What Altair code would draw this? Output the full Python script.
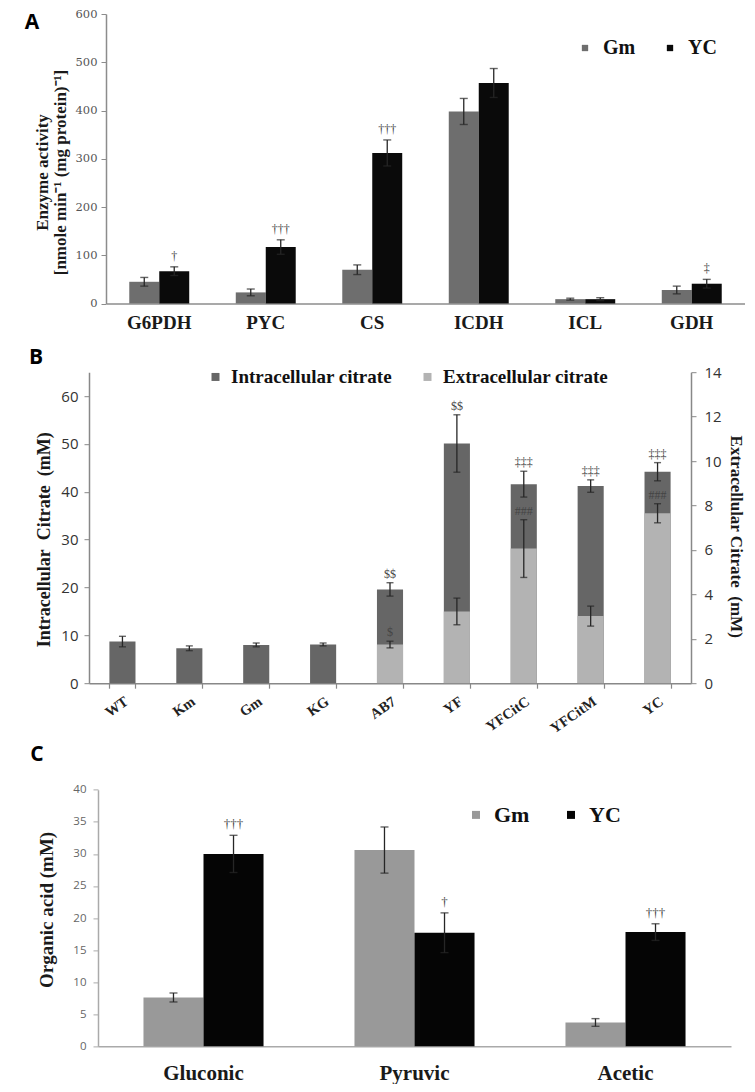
import altair as alt
import pandas as pd

SERIF = "Liberation Serif"
SANS = "Open Sans"

# ---------------- Panel A data ----------------
A_cats = ["G6PDH", "PYC", "CS", "ICDH", "ICL", "GDH"]
A_gm = [45, 23, 70, 398, 9, 28]
A_gm_err = [9, 7, 10, 27, 2, 8]
A_yc = [67, 117, 312, 457, 9, 41]
A_yc_err = [9, 15, 27, 30, 3, 9]
A_yc_sig = ["†", "†††", "†††", "", "", "‡"]

# ---------------- Panel B data ----------------
B_cats = ["WT", "Km", "Gm", "KG", "AB7", "YF", "YFCitC", "YFCitM", "YC"]
B_intra = [8.7, 7.3, 8.0, 8.1, 19.6, 50.1, 41.6, 41.2, 44.2]
B_intra_err = [1.1, 0.5, 0.4, 0.3, 1.4, 6.0, 2.7, 1.3, 1.9]
B_extra = [0, 0, 0, 0, 1.74, 3.23, 6.06, 3.02, 7.65]
B_extra_err = [0, 0, 0, 0, 0.15, 0.6, 1.3, 0.45, 0.43]
B_intra_sig = ["", "", "", "", "$$", "$$", "‡‡‡", "‡‡‡", "‡‡‡"]
B_extra_sig = ["", "", "", "", "$", "", "###", "", "###"]

# ---------------- Panel C data ----------------
C_cats = ["Gluconic", "Pyruvic", "Acetic"]
C_gm = [7.6, 30.6, 3.7]
C_gm_err = [0.7, 3.6, 0.6]
C_yc = [30.0, 17.7, 17.8]
C_yc_err = [2.9, 3.1, 1.3]
C_yc_sig = ["†††", "†", "†††"]

SERIES = ["Gm", "YC"]
NB = "\u00a0"


def grouped_df(catname, sname, cats, gm, gm_err, yc, yc_err, yc_sig):
    rows = []
    for i, c in enumerate(cats):
        rows.append({catname: c, sname: "Gm", "value": gm[i], "err": gm_err[i], "sig": ""})
        rows.append({catname: c, sname: "YC", "value": yc[i], "err": yc_err[i], "sig": yc_sig[i]})
    df = pd.DataFrame(rows)
    df["lo"] = df["value"] - df["err"]
    df["hi"] = df["value"] + df["err"]
    return df


def grouped_panel(df, catname, sname, cats, colors, xrange, pin, xaxis, yscale, yaxis,
                  legend, letter, letter_xy, width, height, tick_w, sig_size):
    x = alt.X(f"{catname}:N", sort=cats,
              scale=alt.Scale(range=xrange, paddingInner=pin, paddingOuter=pin / 2),
              axis=xaxis)
    xo = alt.XOffset(f"{sname}:N", sort=SERIES, scale=alt.Scale(paddingInner=0, paddingOuter=0))
    base = alt.Chart(df)
    bars = base.mark_bar().encode(
        x=x, xOffset=xo,
        y=alt.Y("value:Q", scale=yscale, axis=yaxis),
        color=alt.Color(f"{sname}:N", scale=alt.Scale(domain=SERIES, range=colors), legend=legend),
    )
    rules = base.mark_rule(color="#262626", strokeWidth=1.3).encode(
        x=x, xOffset=xo,
        y=alt.Y("lo:Q", scale=yscale, axis=yaxis), y2="hi:Q")
    tlo = base.mark_tick(color="#262626", size=tick_w, thickness=1.4).encode(
        x=x, xOffset=xo, y=alt.Y("lo:Q", scale=yscale, axis=yaxis))
    thi = base.mark_tick(color="#262626", size=tick_w, thickness=1.4).encode(
        x=x, xOffset=xo, y=alt.Y("hi:Q", scale=yscale, axis=yaxis))
    sig = base.mark_text(dy=-11, font=SERIF, fontSize=sig_size, color="#444444").encode(
        x=x, xOffset=xo, y=alt.Y("hi:Q", scale=yscale, axis=yaxis), text="sig:N")
    let = alt.Chart(pd.DataFrame({"t": [letter]})).mark_text(
        font=SANS, fontWeight="bold", fontSize=21, color="#000000", align="center", baseline="middle"
    ).encode(text="t:N", x=alt.value(letter_xy[0]), y=alt.value(letter_xy[1]))
    return alt.layer(bars, rules, tlo, thi, sig, let).properties(width=width, height=height)


# ---------------- Panel A ----------------
dfA = grouped_df("enzyme", "sA", A_cats, A_gm, A_gm_err, A_yc, A_yc_err, A_yc_sig)
xaxisA = alt.Axis(title=None, labelAngle=0, ticks=False, domainColor="#8c8c8c", domainWidth=1.5,
                  labelFont=SERIF, labelFontWeight="bold", labelFontSize=19, labelColor="#1a1a1a",
                  labelPadding=10)
yaxisA = alt.Axis(values=[0, 100, 200, 300, 400, 500, 600], offset=-17,
                  title=["Enzyme activity", "[nmole min⁻¹ (mg protein)⁻¹]"],
                  titleFont=SERIF, titleFontWeight="bold", titleFontSize=17, titleColor="#1a1a1a",
                  titleLineHeight=18, titlePadding=6, titleY=158, titleAlign="center",
                  labelFont="DejaVu Serif", labelFontSize=11.5, labelColor="#555555",
                  tickSize=5, tickColor="#8c8c8c", domainColor="#8c8c8c", domainWidth=1.5,
                  labelPadding=4, grid=False)
legA = alt.Legend(orient="none", legendX=486, legendY=24, direction="horizontal", title=None,
                  symbolType="square", symbolSize=40, symbolStrokeWidth=0,
                  labelFont=SERIF, labelFontWeight="bold", labelFontSize=20, labelColor="#111111",
                  columnPadding=24, labelOffset=8)
panelA = grouped_panel(dfA, "enzyme", "sA", A_cats, ["#6e6e6e", "#0a0a0a"], [17, 656], 0.437,
                       xaxisA, alt.Scale(domain=[0, 600], nice=False), yaxisA, legA,
                       "A", (-57, 9), 656, 289.5, 8, 12)

# ---------------- Panel B ----------------
dfB = pd.DataFrame({
    "strain": B_cats, "intra": B_intra, "ierr": B_intra_err,
    "extra": B_extra, "eerr": B_extra_err, "isig": B_intra_sig, "esig": B_extra_sig,
})
dfB["ilo"] = dfB["intra"] - dfB["ierr"]
dfB["ihi"] = dfB["intra"] + dfB["ierr"]
dfB["elo"] = dfB["extra"] - dfB["eerr"]
dfB["ehi"] = dfB["extra"] + dfB["eerr"]

xaxisB = alt.Axis(title=None, labelAngle=-35, tickBand="extent", ticks=True, tickSize=5,
                  tickColor="#888888", tickWidth=1.2, domainColor="#888888", domainWidth=1.5,
                  labelFont=SERIF, labelFontWeight="bold", labelFontSize=14.5, labelColor="#222222",
                  labelPadding=6, labelAlign="right", labelBaseline="top")
xB = alt.X("strain:N", sort=B_cats, scale=alt.Scale(paddingInner=0.61, paddingOuter=0.305), axis=xaxisB)
ysL = alt.Scale(domain=[0, 65], nice=False)
ysR = alt.Scale(domain=[0, 14], nice=False)
yaxL = alt.Axis(orient="left", values=[0, 10, 20, 30, 40, 50, 60],
                title=f"Intracellular{NB}{NB}Citrate{NB}{NB}(mM)", titleFont=SERIF, titleFontWeight="bold",
                titleFontSize=18, titleColor="#1a1a1a", titlePadding=7, titleY=167, titleAlign="center",
                labelFont=SANS, labelFontSize=15, labelColor="#333333", labelPadding=6,
                tickSize=5, tickColor="#888888", domainColor="#888888", domainWidth=1.5, grid=False)
yaxR = alt.Axis(orient="right", values=[0, 2, 4, 6, 8, 10, 12, 14],
                title=f"Extracellular Citrate{NB}{NB}(mM)", titleFont=SERIF, titleFontWeight="bold",
                titleFontSize=17, titleColor="#1a1a1a", titlePadding=5, titleY=164, titleAlign="center",
                labelFont=SANS, labelFontSize=15, labelColor="#333333", labelPadding=8,
                tickSize=5, tickColor="#888888", domainColor="#888888", domainWidth=1.5, grid=False)
KINDS = ["Intracellular citrate", "Extracellular citrate"]
legB = alt.Legend(orient="none", legendX=117, legendY=-5, direction="horizontal", title=None,
                  symbolType="square", symbolSize=64, symbolStrokeWidth=0,
                  labelFont=SERIF, labelFontWeight="bold", labelFontSize=19, labelColor="#111111",
                  columnPadding=26, labelOffset=6, labelLimit=400)
colB = alt.Color("kind:N", scale=alt.Scale(domain=KINDS, range=["#666666", "#b3b3b3"]), legend=legB)

baseB = alt.Chart(dfB)
barsI = baseB.mark_bar().transform_calculate(kind="'Intracellular citrate'").encode(
    x=xB, y=alt.Y("intra:Q", scale=ysL, axis=yaxL), color=colB)
ruleI = baseB.mark_rule(color="#262626", strokeWidth=1.3).encode(
    x=xB, y=alt.Y("ilo:Q", scale=ysL, axis=yaxL), y2="ihi:Q")
tloI = baseB.mark_tick(color="#262626", size=7, thickness=1.4).encode(
    x=xB, y=alt.Y("ilo:Q", scale=ysL, axis=yaxL))
thiI = baseB.mark_tick(color="#262626", size=7, thickness=1.4).encode(
    x=xB, y=alt.Y("ihi:Q", scale=ysL, axis=yaxL))
sigI = baseB.mark_text(dy=-9, font=SERIF, fontSize=12, color="#444444").encode(
    x=xB, y=alt.Y("ihi:Q", scale=ysL, axis=yaxL), text="isig:N")
letB = alt.Chart(pd.DataFrame({"t": ["B"]})).mark_text(
    font=SANS, fontWeight="bold", fontSize=21, color="#000000", align="center", baseline="middle"
).encode(text="t:N", x=alt.value(-53), y=alt.value(-14))
left = alt.layer(barsI, ruleI, tloI, thiI, sigI, letB)

baseE = alt.Chart(dfB).transform_filter("datum.eerr > 0")
barsE = baseB.mark_bar().transform_calculate(kind="'Extracellular citrate'").encode(
    x=xB, y=alt.Y("extra:Q", scale=ysR, axis=yaxR), color=colB)
ruleE = baseE.mark_rule(color="#262626", strokeWidth=1.3).encode(
    x=xB, y=alt.Y("elo:Q", scale=ysR, axis=yaxR), y2="ehi:Q")
tloE = baseE.mark_tick(color="#262626", size=7, thickness=1.4).encode(
    x=xB, y=alt.Y("elo:Q", scale=ysR, axis=yaxR))
thiE = baseE.mark_tick(color="#262626", size=7, thickness=1.4).encode(
    x=xB, y=alt.Y("ehi:Q", scale=ysR, axis=yaxR))
sigE = baseE.mark_text(dy=-9, font=SERIF, fontSize=12, color="#444444").encode(
    x=xB, y=alt.Y("ehi:Q", scale=ysR, axis=yaxR), text="esig:N")
right = alt.layer(barsE, ruleE, tloE, thiE, sigE)

panelB = alt.layer(left, right).resolve_scale(y="independent").properties(width=602, height=311)

# ---------------- Panel C ----------------
dfC = grouped_df("acid", "sC", C_cats, C_gm, C_gm_err, C_yc, C_yc_err, C_yc_sig)
xaxisC = alt.Axis(title=None, labelAngle=0, ticks=False, domainColor="#aaaaaa", domainWidth=1.5,
                  labelFont=SERIF, labelFontWeight="bold", labelFontSize=21, labelColor="#1a1a1a",
                  labelPadding=16)
yaxisC = alt.Axis(values=[0, 5, 10, 15, 20, 25, 30, 35, 40], offset=-9,
                  title="Organic acid (mM)", titleFont=SERIF, titleFontWeight="bold",
                  titleFontSize=19, titleColor="#1a1a1a", titlePadding=16, titleY=158, titleAlign="center",
                  labelFont=SANS, labelFontSize=11.5, labelColor="#666666", labelPadding=7,
                  tickSize=5, tickColor="#aaaaaa", domainColor="#aaaaaa", domainWidth=1.5, grid=False)
legC = alt.Legend(orient="none", legendX=376, legendY=52.5, direction="horizontal", title=None,
                  symbolType="square", symbolSize=64, symbolStrokeWidth=0,
                  labelFont=SERIF, labelFontWeight="bold", labelFontSize=22, labelColor="#111111",
                  columnPadding=30, labelOffset=7)
panelC = grouped_panel(dfC, "acid", "sC", C_cats, ["#999999", "#050505"], [9, 642], 0.431,
                       xaxisC, alt.Scale(domain=[0, 40], nice=False, range=[294.8, 38.4]), yaxisC, legC,
                       "C", (-52, 3.5), 642, 294.8, 8, 13)

chart = alt.vconcat(panelA, panelB, panelC, spacing=68.2, bounds="flush").resolve_scale(
    x="independent", y="independent", color="independent", xOffset="independent"
).properties(
    padding={"left": 16, "top": 0, "right": 0, "bottom": 0}, background="white"
).configure_view(stroke=None).configure_axis(grid=False)

chart.save("out.html", embed_options={"renderer": "svg", "actions": False})
